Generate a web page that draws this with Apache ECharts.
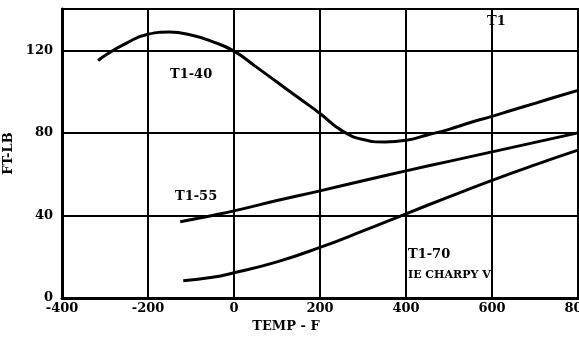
<!DOCTYPE html>
<html>
<head>
<meta charset="utf-8">
<script src="https://cdn.jsdelivr.net/npm/echarts@6/dist/echarts.min.js"></script>
<style>
  html, body { margin: 0; padding: 0; background: #fff; }
  #chart { width: 579px; height: 343px; }
</style>
</head>
<body>
<div id="chart"></div>
<script>
// temperature (F) vs. energy (ft-lb)
const t140 = [
  [-316, 115], [-300, 117.5], [-250, 123.5], [-200, 127.8], [-150, 128.8], [-100, 127.4],
  [-50, 124.2], [0, 119.6], [50, 112.2], [100, 104.6], [150, 97], [200, 89.4],
  [250, 81.2], [300, 76.8], [350, 75.6], [400, 76.4], [450, 79], [500, 81.7],
  [550, 85], [600, 88], [650, 91.2], [700, 94.3], [750, 97.5], [800, 100.6]
];
const t155 = [
  [-125, 36.9], [-50, 40], [0, 42.2], [100, 47.2], [200, 51.9], [300, 56.8],
  [400, 61.6], [500, 66.2], [600, 70.8], [700, 75.4], [800, 80]
];
const t170 = [
  [-118, 8.4], [-50, 10], [0, 12.2], [100, 17.5], [200, 24.5], [300, 32.5],
  [400, 40.8], [500, 49], [600, 57], [700, 64.5], [800, 71.6]
];
const xTicks = [-400, -200, 0, 200, 400, 600, 800];
const yTicks = [0, 40, 80, 120];

const font = '"DejaVu Serif", "Liberation Serif", serif';

const chart = echarts.init(document.getElementById('chart'));

const curve = (name, data) => ({
  name: name,
  type: 'line',
  data: data,
  smooth: 0.5,
  showSymbol: false,
  symbol: 'none',
  lineStyle: { color: '#000', width: 3 },
  silent: true
});

chart.setOption({
  animation: false,
  backgroundColor: '#fff',
  grid: {
    left: 62, right: 1, top: 9, bottom: 45,
    outerBoundsMode: 'none',
    containLabel: false,
    show: true, borderColor: '#000', borderWidth: 2
  },
  xAxis: {
    type: 'value',
    min: xTicks[0], max: xTicks[xTicks.length - 1], interval: 200,
    name: 'TEMP - F',
    nameLocation: 'middle',
    nameGap: 20,
    nameTextStyle: { color: '#000', fontFamily: font, fontWeight: 'bold', fontSize: 13, padding: [0, 68, 0, 0] },
    axisLine: { onZero: false, lineStyle: { color: '#000', width: 3 } },
    axisTick: { show: false },
    axisLabel: { color: '#000', fontFamily: font, fontWeight: 'bold', fontSize: 13, margin: 4, hideOverlap: false },
    splitLine: { lineStyle: { color: '#000', width: 2 } }
  },
  yAxis: {
    type: 'value',
    min: yTicks[0], max: 140, interval: 40,
    name: 'FT-LB',
    nameLocation: 'middle',
    nameGap: 36,
    nameTextStyle: { color: '#000', fontFamily: font, fontWeight: 'bold', fontSize: 13 },
    axisLine: { onZero: false, lineStyle: { color: '#000', width: 3 } },
    axisTick: { show: false },
    axisLabel: {
      color: '#000', fontFamily: font, fontWeight: 'bold', fontSize: 13, margin: 9,
      formatter: v => (yTicks.indexOf(v) >= 0 ? String(v) : '')
    },
    splitLine: { lineStyle: { color: '#000', width: 2 } }
  },
  series: [
    curve('T1-40', t140),
    curve('T1-55', t155),
    curve('T1-70', t170)
  ],
  graphic: [
    { type: 'text', left: 170, top: 68, style: { text: 'T1-40', font: 'bold 13px ' + font, fill: '#000' } },
    { type: 'text', left: 175, top: 190, style: { text: 'T1-55', font: 'bold 13px ' + font, fill: '#000' } },
    { type: 'text', left: 408, top: 248, style: { text: 'T1-70', font: 'bold 13px ' + font, fill: '#000' } },
    { type: 'text', left: 408, top: 270, style: { text: 'IE CHARPY V', font: 'bold 11px ' + font, fill: '#000' } },
    { type: 'text', left: 487, top: 15, style: { text: 'T1', font: 'bold 13px ' + font, fill: '#000' } }
  ]
});
</script>
</body>
</html>
